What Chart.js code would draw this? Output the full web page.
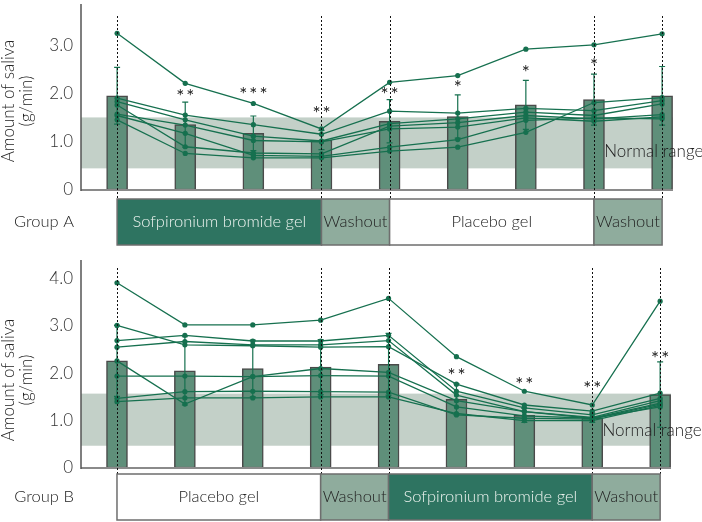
<!DOCTYPE html>
<html>
<head>
  <script src="https://cdn.jsdelivr.net/npm/chart.js"></script>
  <style>
    body { margin: 0; background: #fff; }
    #wrap { position: relative; width: 702px; height: 522px; overflow: hidden; }
    #wrap canvas { position: absolute; left: 0; }
  </style>
</head>
<body>
<div id="wrap">
  <canvas id="chartA" width="702" height="250" style="top:0px"></canvas>
  <canvas id="chartB" width="702" height="272" style="top:250px"></canvas>
</div>
<script>
// visits (0 = baseline ... 8 = end of second washout)
const visits = [0, 1, 2, 3, 4, 5, 6, 7, 8];
const yTicksA = [0, 1, 2, 3];
const yTicksB = [0, 1, 2, 3, 4];

// Group A
const meanA = [1.96, 1.36, 1.18, 1.04, 1.43, 1.53, 1.77, 1.88, 1.96];
const sdA   = [0.59, 0.47, 0.36, 0.20, 0.45, 0.45, 0.51, 0.53, 0.61];
const patientsA = [
  [3.26, 2.22, 1.80, 1.27, 2.24, 2.38, 2.93, 3.02, 3.25],
  [1.91, 1.56, 1.36, 1.16, 1.64, 1.60, 1.70, 1.65, 1.86],
  [1.84, 1.46, 1.12, 1.02, 1.38, 1.48, 1.62, 1.55, 1.79],
  [1.77, 0.90, 0.77, 0.75, 1.33, 1.40, 1.55, 1.48, 1.57],
  [1.58, 1.35, 1.03, 1.00, 1.27, 1.31, 1.50, 1.43, 1.52],
  [1.55, 1.18, 0.72, 0.70, 0.89, 1.05, 1.45, 1.50, 1.48],
  [1.46, 0.76, 0.67, 0.67, 0.81, 0.89, 1.20, 1.82, 1.92]
];
const starsA     = ['', '**', '***', '**', '**', '*', '*', '*', ''];
const starLevelA = [0, 2.04, 2.08, 1.69, 2.09, 2.22, 2.53, 2.69, 0];
const normalA = [0.45, 1.51];
const phasesA = [
  ['Sofpironium bromide gel', 0, 3, 'drug'],
  ['Washout', 3, 4, 'washout'],
  ['Placebo gel', 4, 7, 'placebo'],
  ['Washout', 7, 8, 'washout']
];

// Group B
const meanB = [2.26, 2.05, 2.10, 2.13, 2.19, 1.45, 1.11, 1.06, 1.55];
const sdB   = [0.75, 0.72, 0.60, 0.58, 0.65, 0.33, 0.15, 0.10, 0.69];
const patientsB = [
  [3.91, 3.02, 3.02, 3.12, 3.58, 2.35, 1.62, 1.33, 3.52],
  [3.01, 2.60, 2.58, 2.55, 2.56, 1.77, 1.33, 1.20, 1.58],
  [2.69, 2.80, 2.68, 2.68, 2.80, 1.62, 1.27, 1.12, 1.47],
  [2.55, 2.67, 2.60, 2.60, 2.69, 1.54, 1.19, 1.07, 1.42],
  [2.26, 1.35, 1.93, 2.10, 2.02, 1.42, 1.19, 1.05, 1.37],
  [1.94, 1.94, 1.93, 1.95, 1.94, 1.29, 1.10, 1.05, 1.29],
  [1.47, 1.61, 1.62, 1.61, 1.60, 1.12, 1.05, 1.03, 1.35],
  [1.40, 1.48, 1.48, 1.50, 1.50, 1.15, 1.00, 1.00, 1.32]
];
const starsB     = ['', '', '', '', '', '**', '**', '**', '**'];
const starLevelB = [0, 0, 0, 0, 0, 2.05, 1.85, 1.77, 2.41];
const normalB = [0.47, 1.57];
const phasesB = [
  ['Placebo gel', 0, 3, 'placebo'],
  ['Washout', 3, 4, 'washout'],
  ['Sofpironium bromide gel', 4, 7, 'drug'],
  ['Washout', 7, 8, 'washout']
];

const dividers = [0, 3, 4, 7, 8];

const FONT = 'Lato, "Open Sans", sans-serif';
const GREEN = '#16704f';
const BAR = '#5f8f7a';
const BAND = '#c3d0c8';
const phaseFill = { drug: '#2e7461', washout: '#8fac9d', placebo: '#ffffff' };
const phaseText = { drug: '#eef4f0', washout: '#222', placebo: '#222' };

function makePanel(id, o) {
  const decor = {
    id: 'decor',
    beforeDatasetsDraw(chart) {
      const { ctx, chartArea: a, scales: { y } } = chart;
      const yt = y.getPixelForValue(o.normal[1]);
      const yb = y.getPixelForValue(o.normal[0]);
      ctx.save();
      ctx.fillStyle = BAND;
      ctx.fillRect(a.left, yt, a.right - a.left, yb - yt);
      ctx.restore();
    },
    afterDatasetsDraw(chart) {
      const { ctx, chartArea: a, scales: { x, y } } = chart;
      ctx.save();
      // axis lines
      ctx.strokeStyle = '#8a8a8a';
      ctx.lineWidth = 2;
      ctx.beginPath();
      ctx.moveTo(a.left, a.bottom);
      ctx.lineTo(a.right, a.bottom);
      ctx.stroke();
      ctx.strokeStyle = '#555';
      ctx.lineWidth = 1.5;
      ctx.beginPath();
      ctx.moveTo(a.left, a.top);
      ctx.lineTo(a.left, a.bottom + 1);
      ctx.stroke();

      // error bars
      ctx.strokeStyle = GREEN;
      ctx.lineWidth = 1.2;
      o.mean.forEach((m, i) => {
        const xp = x.getPixelForValue(visits[i]);
        const t = y.getPixelForValue(m + o.sd[i]);
        const b = y.getPixelForValue(m - o.sd[i]);
        ctx.beginPath();
        ctx.moveTo(xp, t); ctx.lineTo(xp, b);
        ctx.moveTo(xp - 3, t); ctx.lineTo(xp + 3, t);
        ctx.moveTo(xp - 3, b); ctx.lineTo(xp + 3, b);
        ctx.stroke();
      });

      const boxTop = a.bottom + o.gap;
      const boxBot = boxTop + 46;

      // dotted phase dividers
      ctx.strokeStyle = '#111';
      ctx.lineWidth = 1;
      ctx.setLineDash([2, 2]);
      dividers.forEach(d => {
        const xp = Math.round(x.getPixelForValue(d)) + 0.5;
        ctx.beginPath();
        ctx.moveTo(xp, a.top + o.dotTop);
        ctx.lineTo(xp, boxTop);
        ctx.stroke();
      });
      ctx.setLineDash([]);

      // significance stars
      ctx.fillStyle = '#222';
      ctx.font = '19px ' + FONT;
      ctx.textAlign = 'center';
      ctx.textBaseline = 'alphabetic';
      ctx.letterSpacing = '2px';
      o.stars.forEach((s, i) => {
        if (!s) return;
        const xp = x.getPixelForValue(visits[i]);
        ctx.fillText(s, xp + 1, y.getPixelForValue(o.starLevel[i]) + 11);
      });
      ctx.letterSpacing = '0px';

      // normal range label
      ctx.textAlign = 'left';
      ctx.textBaseline = 'middle';
      ctx.font = '300 17px ' + FONT;
      ctx.fillText('Normal range', x.getPixelForValue(7.15), y.getPixelForValue(0.8));

      // y title
      ctx.font = '300 17px ' + FONT;
      ctx.textAlign = 'center';
      ctx.save();
      ctx.translate(9, o.titleY);
      ctx.rotate(-Math.PI / 2);
      ctx.fillText('Amount of saliva', 0, 0);
      ctx.restore();
      ctx.save();
      ctx.translate(27, o.titleY);
      ctx.rotate(-Math.PI / 2);
      ctx.fillText('(g/min)', 0, 0);
      ctx.restore();

      // treatment timeline
      ctx.font = '300 16.5px ' + FONT;
      o.phases.forEach(p => {
        const x0 = x.getPixelForValue(p[1]);
        const x1 = x.getPixelForValue(p[2]);
        ctx.fillStyle = phaseFill[p[3]];
        ctx.fillRect(x0, boxTop, x1 - x0, boxBot - boxTop);
        ctx.strokeStyle = '#6e6e6e';
        ctx.lineWidth = 1.5;
        ctx.strokeRect(x0, boxTop, x1 - x0, boxBot - boxTop);
        ctx.fillStyle = phaseText[p[3]];
        ctx.textAlign = 'center';
        ctx.fillText(p[0], (x0 + x1) / 2, (boxTop + boxBot) / 2);
      });
      ctx.fillStyle = '#222';
      ctx.fillText(o.group, 44, (boxTop + boxBot) / 2);
      ctx.restore();
    }
  };

  const datasets = [{
    type: 'bar',
    data: visits.map((v, i) => ({ x: v, y: o.mean[i] })),
    backgroundColor: BAR,
    borderColor: '#4a4a4a',
    borderWidth: 1.5,
    borderSkipped: false,
    barThickness: 21,
    order: 10
  }];
  o.patients.forEach(p => {
    datasets.push({
      type: 'line',
      data: visits.map((v, i) => ({ x: v, y: p[i] })),
      borderColor: GREEN,
      backgroundColor: GREEN,
      borderWidth: 1.3,
      pointRadius: 2.6,
      pointBackgroundColor: GREEN,
      pointBorderWidth: 0,
      tension: 0,
      order: 1
    });
  });

  return new Chart(document.getElementById(id), {
    data: { datasets },
    plugins: [decor],
    options: {
      responsive: false,
      animation: false,
      devicePixelRatio: 1,
      layout: { padding: o.padding },
      plugins: { legend: { display: false }, tooltip: { enabled: false } },
      scales: {
        x: { type: 'linear', min: -0.53, max: 8.16, offset: false, display: false },
        y: {
          type: 'linear',
          min: 0,
          max: o.yMax,
          border: { display: false },
          grid: { display: false, drawTicks: false, tickLength: 0 },
          afterBuildTicks: s => { s.ticks = o.yTicks.map(v => ({ value: v })); },
          afterFit: s => { s.width = 81; s.paddingTop = 0; s.paddingBottom = 0; },
          ticks: {
            padding: 8,
            color: '#333',
            font: { family: FONT, size: 17, weight: '300' },
            callback: v => v === 0 ? '0' : v.toFixed(1)
          }
        }
      }
    }
  });
}

makePanel('chartA', {
  mean: meanA, sd: sdA, patients: patientsA, stars: starsA, starLevel: starLevelA,
  normal: normalA, phases: phasesA, yTicks: yTicksA, yMax: 3.87, group: 'Group A',
  padding: { top: 0, bottom: 60, left: 0, right: 29 }, gap: 9, dotTop: 12, titleY: 101
});
makePanel('chartB', {
  mean: meanB, sd: sdB, patients: patientsB, stars: starsB, starLevel: starLevelB,
  normal: normalB, phases: phasesB, yTicks: yTicksB, yMax: 4.39, group: 'Group B',
  padding: { top: 10, bottom: 54, left: 0, right: 31 }, gap: 6, dotTop: 8, titleY: 130
});
</script>
</body>
</html>
